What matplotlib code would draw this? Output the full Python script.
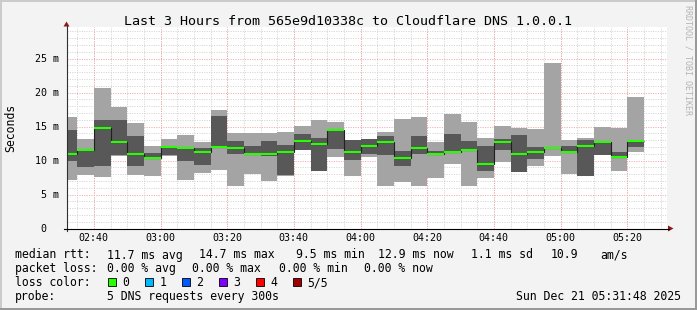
import matplotlib
matplotlib.use("Agg")
import matplotlib.pyplot as plt
import matplotlib.transforms as mtransforms
from matplotlib.patches import Polygon, Rectangle
from matplotlib.lines import Line2D
import numpy as np

W, H = 697, 310
MONO = "DejaVu Sans Mono"

# ---------------- data ----------------
bar_end_times = ["02:35", "02:40", "02:45", "02:50", "02:55", "03:00", "03:05",
                 "03:10", "03:15", "03:20", "03:25", "03:30", "03:35", "03:40",
                 "03:45", "03:50", "03:55", "04:00", "04:05", "04:10", "04:15",
                 "04:20", "04:25", "04:30", "04:35", "04:40", "04:45", "04:50",
                 "04:55", "05:00", "05:05", "05:10", "05:15", "05:20", "05:25"]
ping_max = [16.4, 13.2, 20.6, 17.8, 15.5, 12.2, 13.2, 13.8, 12.75, 17.45,
            14.05, 14.05, 14.05, 14.2, 15.1, 16.0, 15.7, 13.05, 13.2, 14.2,
            16.1, 16.4, 12.75, 16.85, 15.7, 13.3, 15.1, 14.8, 14.65, 24.4,
            13.05, 13.3, 14.95, 14.8, 19.3]
ping_upper = [14.5, 11.6, 16.0, 15.9, 13.6, 11.15, 12.1, 11.9, 11.8, 16.55,
              12.9, 12.15, 12.9, 12.3, 13.9, 13.3, 14.6, 13.0, 13.15, 13.6,
              11.45, 13.6, 11.45, 13.9, 12.9, 12.15, 13.2, 13.8, 12.0, 12.0,
              12.2, 13.05, 12.7, 11.3, 12.95]
median_rtt = [11.0, 11.6, 14.8, 12.75, 10.9, 10.3, 12.05, 11.85, 11.2, 12.05,
              11.9, 11.0, 11.0, 11.3, 12.9, 12.45, 14.5, 11.2, 12.2, 12.65,
              10.3, 11.9, 11.0, 11.2, 11.55, 9.5, 12.75, 11.0, 11.2, 11.9,
              11.2, 12.2, 12.65, 10.45, 12.94]
ping_lower = [10.0, 9.1, 9.2, 10.8, 9.2, 10.3, 10.75, 10.0, 9.4, 12.0,
              11.0, 10.95, 10.6, 7.8, 11.6, 8.5, 11.7, 10.1, 11.0, 10.85,
              9.25, 11.0, 10.95, 11.15, 11.4, 8.5, 11.55, 8.3, 10.2, 11.8,
              11.1, 7.7, 10.85, 10.4, 11.95]
ping_min = [7.2, 7.9, 7.6, 10.7, 7.9, 7.65, 10.6, 7.15, 8.2, 8.6,
            6.3, 7.95, 7.05, 7.75, 11.55, 8.45, 10.55, 7.65, 10.45, 6.2,
            6.9, 6.2, 7.5, 9.55, 6.2, 7.5, 9.85, 8.25, 9.2, 10.7,
            7.95, 7.65, 10.8, 8.5, 11.3]
step_minutes = 5
window_start = "02:31:48"
window_end = "05:31:48"
x_tick_labels = ["02:40", "03:00", "03:20", "03:40", "04:00", "04:20",
                 "04:40", "05:00", "05:20"]
y_ticks = [0, 5, 10, 15, 20, 25]
y_tick_labels = [" 0", " 5 m", "10 m", "15 m", "20 m", "25 m"]

title = "Last 3 Hours from 565e9d10338c to Cloudflare DNS 1.0.0.1"
legend_row1 = [("median rtt:", 16), ("11.7 ms avg", 107.7), ("14.7 ms max", 200),
               ("9.5 ms min", 297), ("12.9 ms now", 379), ("1.1 ms sd", 472),
               ("10.9", 551), ("am/s", 600.7)]
legend_row2 = [("packet loss:", 16), ("0.00 % avg", 107.7), ("0.00 % max", 193.3),
               ("0.00 % min", 279.5), ("0.00 % now", 365.3)]
loss_labels = ["0", "1", "2", "3", "4", "5/5"]
loss_colors = ["#26ff00", "#00b8ff", "#0059ff", "#7e00ff", "#ff0000", "#a10000"]
probe_text = "5 DNS requests every 300s"
date_text = "Sun Dec 21 05:31:48 2025"


def to_min(s):
    parts = [float(p) for p in s.split(":")]
    while len(parts) < 3:
        parts.append(0.0)
    return parts[0] * 60 + parts[1] + parts[2] / 60.0


def fx(x):
    return x / W


def fy(y):
    return 1 - y / H


ends = np.array([to_min(t) for t in bar_end_times])
lefts = ends - step_minutes
edges = np.append(lefts, ends[-1])
pmax = np.array(ping_max)
pup = np.array(ping_upper)
med = np.array(median_rtt)
plo = np.array(ping_lower)
pmin = np.array(ping_min)

fig = plt.figure(figsize=(W / 100, H / 100), dpi=100)
fig.patch.set_facecolor("#f3f3f3")

x0, x1 = 66.5, 666.5
y0, y1 = 228.5, 27.3
px_per_ms = 6.8
ax = fig.add_axes([fx(x0), fy(y0), (x1 - x0) / W, (y0 - y1) / H])
ax.set_facecolor("white")
ax.set_xlim(to_min(window_start), to_min(window_end))
ax.set_ylim(0, (y0 - y1) / px_per_ms)
for s in ax.spines.values():
    s.set_visible(False)
ax.set_xticks([])
ax.set_yticks([])

# grid (dotted)
minor_c = "#d2d2d2"
major_c = "#f4a4a4"
dots = (0, (1, 1.4))
glw = 0.72
for v in range(1, 30):
    if v % 5:
        ax.axhline(v, color=minor_c, lw=glw, ls=dots, zorder=0.5, snap=True)
t = to_min("02:35")
while t < to_min(window_end):
    ax.axvline(t, color=minor_c, lw=glw, ls=dots, zorder=0.5, snap=True)
    t += step_minutes
for v in y_ticks[1:]:
    ax.axhline(v, color=major_c, lw=glw, ls=dots, zorder=0.6, snap=True)
for lab in x_tick_labels:
    ax.axvline(to_min(lab), color=major_c, lw=glw, ls=dots, zorder=0.6, snap=True)

# smoke
ax.bar(lefts, pmax - pmin, bottom=pmin, width=step_minutes, align="edge",
       color="#a4a4a4", linewidth=0, zorder=2, antialiased=False)
ax.bar(lefts, pup - plo, bottom=plo, width=step_minutes, align="edge",
       color="#585858", linewidth=0, zorder=3, antialiased=False)
# median
ax.stairs(med, edges, baseline=None, color="#202020", lw=0.8, zorder=4)
ax.hlines(med, lefts, ends, color="#26ff00", lw=1.5, zorder=5)

# axes lines and arrows
fig.add_artist(Line2D([fx(x0), fx(x0)], [fy(231), fy(26)], transform=fig.transFigure,
                      color="#303030", lw=0.8))
fig.add_artist(Line2D([fx(64), fx(669)], [fy(y0), fy(y0)], transform=fig.transFigure,
                      color="#000000", lw=0.8))
fig.add_artist(Polygon([[fx(x0 - 3), fy(26.5)], [fx(x0 + 3), fy(26.5)], [fx(x0), fy(21.5)]],
                       closed=True, transform=fig.transFigure, color="#8b1a1a", lw=0))
fig.add_artist(Polygon([[fx(668), fy(y0 - 3)], [fx(668), fy(y0 + 3)], [fx(673.5), fy(y0)]],
                       closed=True, transform=fig.transFigure, color="#8b1a1a", lw=0))

# tick labels
tx = mtransforms.blended_transform_factory(ax.transData, fig.transFigure)
for lab in x_tick_labels:
    ax.text(to_min(lab), fy(241), lab, transform=tx, ha="center", va="baseline",
            fontsize=7.2, family=MONO, color="#000000")
ty = mtransforms.blended_transform_factory(fig.transFigure, ax.transData) + \
    mtransforms.ScaledTranslation(0, -3.5 / 100, fig.dpi_scale_trans)
for v, lab in zip(y_ticks, y_tick_labels):
    ax.text(fx(35), v, lab, transform=ty, ha="left", va="baseline",
            fontsize=7.2, family=MONO, color="#000000")

# title / labels
fig.text(fx(348.5), fy(24.7), title, ha="center", va="baseline", fontsize=9.6,
         family=MONO, color="#000000")
fig.text(fx(11), fy(127.5), "Seconds", rotation=90, ha="center", va="center",
         fontsize=8.3, family=MONO, color="#000000")
fig.text(fx(687.7), fy(60), "RRDTOOL / TOBI OETIKER", rotation=270, ha="center",
         va="center", fontsize=6.0, family=MONO, color="#b4b4b4")

# legend
LF = 8.3
for txt, x in legend_row1:
    fig.text(fx(x - 0.8), fy(258.5), txt, ha="left", va="baseline", fontsize=LF, family=MONO)
for txt, x in legend_row2:
    fig.text(fx(x - 0.8), fy(272.3), txt, ha="left", va="baseline", fontsize=LF, family=MONO)
fig.text(fx(15.2), fy(286.3), "loss color:", ha="left", va="baseline", fontsize=LF, family=MONO)
box_x = [108.3, 145.3, 182.3, 219.0, 256.0, 293.0]
for bx, lab, col in zip(box_x, loss_labels, loss_colors):
    fig.add_artist(Rectangle((fx(bx), fy(286.3)), 7.5 / W, 8 / H, transform=fig.transFigure,
                             facecolor=col, edgecolor="#000000", lw=0.6))
    fig.text(fx(bx + 14.2), fy(286.3), lab, ha="left", va="baseline", fontsize=LF, family=MONO)
fig.text(fx(15.2), fy(300.3), "probe:", ha="left", va="baseline", fontsize=LF, family=MONO)
fig.text(fx(106.9), fy(300.3), probe_text, ha="left", va="baseline", fontsize=LF, family=MONO)
fig.text(fx(681), fy(300.3), date_text, ha="right", va="baseline", fontsize=LF, family=MONO)

# frame
fig.add_artist(Rectangle((0, fy(2)), 1, 2 / H, transform=fig.transFigure, color="#cbcbcb", lw=0))
fig.add_artist(Rectangle((0, 0), 2 / W, 1, transform=fig.transFigure, color="#cbcbcb", lw=0))
fig.add_artist(Rectangle((0, 0), 1, 2.5 / H, transform=fig.transFigure, color="#999999", lw=0))
fig.add_artist(Rectangle((fx(695), 0), 2 / W, 1, transform=fig.transFigure, color="#999999", lw=0))

fig.savefig("out.png", dpi=100, facecolor=fig.get_facecolor())
